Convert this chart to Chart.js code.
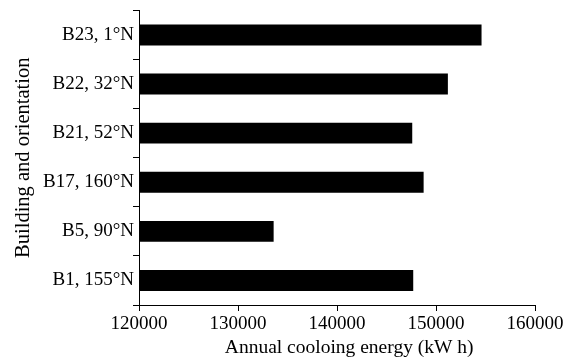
<!DOCTYPE html>
<html>
<head>
<meta charset="utf-8">
<style>
  html, body { margin: 0; padding: 0; background: #fff; }
  #wrap { width: 574px; height: 362px; }
</style>
<script src="https://cdn.jsdelivr.net/npm/chart.js@4/dist/chart.umd.min.js"></script>
</head>
<body>
<div id="wrap"><canvas id="c" width="574" height="362"></canvas></div>
<script>
const categories = ["B23, 1°N", "B22, 32°N", "B21, 52°N", "B17, 160°N", "B5, 90°N", "B1, 155°N"];
const coolingEnergy = [154600, 151200, 147600, 148750, 133600, 147700];
const xTicks = [120000, 130000, 140000, 150000, 160000];
const xTitle = "Annual cooloing energy (kW h)";
const yTitle = "Building and orientation";

const FONT = "'Liberation Serif', 'Times New Roman', serif";

new Chart(document.getElementById('c'), {
  type: 'bar',
  data: {
    labels: categories,
    datasets: [{
      data: coolingEnergy,
      backgroundColor: '#000',
      borderWidth: 0,
      barPercentage: 0.425,
      categoryPercentage: 1.0
    }]
  },
  options: {
    indexAxis: 'y',
    responsive: false,
    animation: false,
    devicePixelRatio: 1,
    layout: { padding: { left: 0, right: 39, top: 8, bottom: 0 } },
    plugins: { legend: { display: false }, tooltip: { enabled: false } },
    scales: {
      x: {
        type: 'linear',
        min: xTicks[0],
        max: xTicks[xTicks.length - 1],
        afterBuildTicks: (s) => { s.ticks = xTicks.map(v => ({ value: v })); },
        afterFit: (s) => { s.height = 57; },
        border: { display: true, color: '#000', width: 1 },
        grid: { drawOnChartArea: false, drawTicks: true, tickLength: 6, color: '#000' },
        ticks: {
          color: '#000',
          font: { family: FONT, size: 19 },
          padding: 2,
          maxRotation: 0,
          callback: (v) => String(v)
        },
        title: {
          display: true,
          text: "     " + xTitle,
          color: '#000',
          font: { family: FONT, size: 19.5 },
          padding: { top: 0, bottom: 2 }
        }
      },
      y: {
        type: 'category',
        afterFit: (s) => { s.width = 139; },
        border: { display: true, color: '#000', width: 1 },
        grid: { drawOnChartArea: false, drawTicks: true, tickLength: 6, color: '#000', offset: true },
        ticks: {
          color: '#000',
          font: { family: FONT, size: 19 },
          padding: -1
        },
        title: {
          display: true,
          text: yTitle,
          color: '#000',
          font: { family: FONT, size: 20.5 },
          padding: { top: 11, bottom: 0 }
        }
      }
    }
  }
});
</script>
</body>
</html>
